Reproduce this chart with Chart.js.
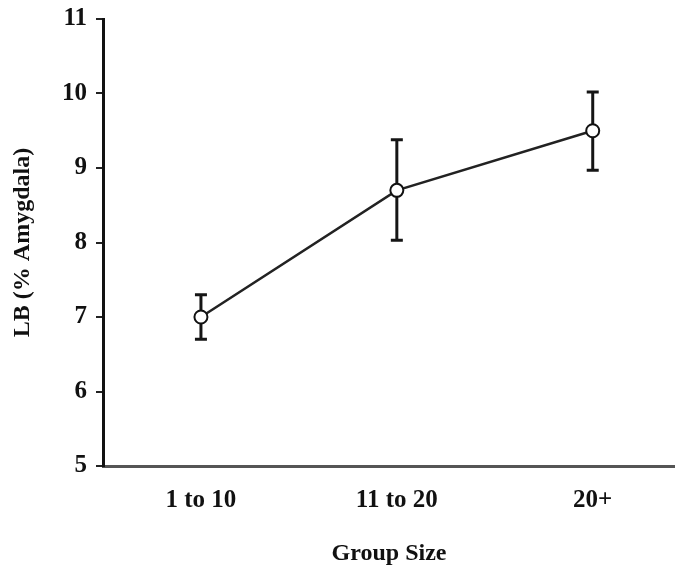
<!DOCTYPE html>
<html>
<head>
<meta charset="utf-8">
<script src="https://cdn.jsdelivr.net/npm/chart.js@4"></script>
<style>
html,body{margin:0;padding:0;background:#fff;}
#wrap{width:675px;height:568px;}
</style>
</head>
<body>
<div id="wrap"><canvas id="c" width="675" height="568"></canvas></div>
<script>
const categories = ["1 to 10", "11 to 20", "20+"];
const means = [7.0, 8.7, 9.5];
const errLow = [6.7, 8.03, 8.97];
const errHigh = [7.3, 9.38, 10.02];
const yTicks = [5, 6, 7, 8, 9, 10, 11];

const FONT = "'Liberation Serif', 'Times New Roman', serif";

const errorBars = {
  id: 'errorBars',
  beforeDatasetsDraw(chart) {
    const ctx = chart.ctx, xs = chart.scales.x, ys = chart.scales.y;
    ctx.save();
    ctx.strokeStyle = '#151515';
    ctx.lineCap = 'butt';
    for (let i = 0; i < means.length; i++) {
      const x = xs.getPixelForValue(i);
      const yl = ys.getPixelForValue(errLow[i]);
      const yh = ys.getPixelForValue(errHigh[i]);
      ctx.lineWidth = 3;
      ctx.beginPath(); ctx.moveTo(x, yl); ctx.lineTo(x, yh); ctx.stroke();
      ctx.beginPath();
      ctx.moveTo(x - 6, yl); ctx.lineTo(x + 6, yl);
      ctx.moveTo(x - 6, yh); ctx.lineTo(x + 6, yh);
      ctx.stroke();
    }
    ctx.restore();
  }
};

new Chart(document.getElementById('c'), {
  type: 'line',
  data: {
    datasets: [{
      data: means.map((v, i) => ({x: i, y: v})),
      borderColor: '#222',
      borderWidth: 2.5,
      pointRadius: 6.5,
      pointBackgroundColor: '#fff',
      pointBorderColor: '#111',
      pointBorderWidth: 2,
      tension: 0
    }]
  },
  options: {
    responsive: false,
    animation: false,
    layout: {autoPadding: false, padding: {top: 19, right: 0, left: 0, bottom: 0}},
    plugins: {legend: {display: false}, tooltip: {enabled: false}},
    scales: {
      x: {
        type: 'linear',
        min: -0.5,
        max: 2.42,
        afterBuildTicks: (s) => { s.ticks = categories.map((c, i) => ({value: i})); },
        afterFit: (s) => { s.height = 102; s.paddingRight = 0; s.paddingLeft = 0; },
        ticks: {
          callback: (v) => categories[v],
          font: {family: FONT, size: 25, weight: 'bold'},
          color: '#111',
          padding: 20,
          maxRotation: 0
        },
        grid: {drawOnChartArea: false, drawTicks: false},
        border: {display: true, color: '#555', width: 3},
        title: {
          display: true,
          text: 'Group Size',
          font: {family: FONT, size: 24, weight: 'bold'},
          color: '#111',
          padding: {top: 4, bottom: 0}
        }
      },
      y: {
        type: 'linear',
        min: 5,
        max: 11,
        afterBuildTicks: (s) => { s.ticks = yTicks.map(v => ({value: v})); },
        afterFit: (s) => { s.width = 103; s.paddingTop = 0; s.paddingBottom = 0; },
        ticks: {
          font: {family: FONT, size: 25, weight: 'bold'},
          color: '#111',
          padding: 9
        },
        grid: {drawOnChartArea: false, drawTicks: true, tickLength: 7, color: '#222', lineWidth: 2},
        border: {display: true, color: '#111', width: 3},
        title: {
          display: true,
          text: 'LB (% Amygdala)',
          font: {family: FONT, size: 24, weight: 'bold'},
          color: '#111',
          padding: {top: 8, bottom: 0}
        }
      }
    }
  },
  plugins: [errorBars]
});
</script>
</body>
</html>
